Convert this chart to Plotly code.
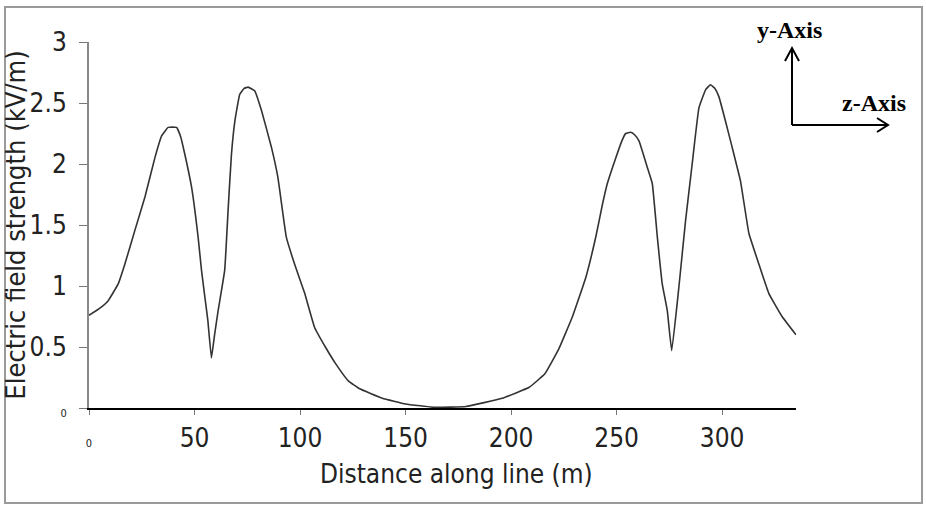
import plotly.graph_objects as go

# Data
distance_m = [0, 4.5, 9.1, 13.9, 17, 21.8, 26.5, 31.2, 34.4, 37.5, 41.5, 43.5, 45.4, 48.6, 51.7, 53.3, 54.9, 56.3,
              58, 59.5, 61.2, 64.3, 65.9, 67.5, 69.1, 71.4, 73.5, 75.4, 78.5, 81.7, 86.4, 89.5, 93.5, 97.4, 102.2,
              106.9, 112, 117, 123, 128, 139, 150, 164, 178.6, 195.8, 208.6, 216, 222.5, 229.1, 235.4,
              240.1, 243.3, 245.6, 249.6, 252.5, 254.3, 256.7, 258.5, 260.6, 264.6, 266.9, 269.3, 271.6, 274, 276.1,
              279.5, 282.7, 285.8, 289, 292.2, 294.5, 296.5, 298.5, 301.6, 304.7, 308.7, 312.7, 317.4, 322.1,
              328.4, 335]
field_kv_m = [0.76, 0.81, 0.88, 1.02, 1.18, 1.46, 1.73, 2.05, 2.23, 2.30, 2.30, 2.22, 2.08, 1.81, 1.40, 1.13, 0.91, 0.72,
              0.41, 0.60, 0.80, 1.13, 1.62, 2.08, 2.35, 2.57, 2.62, 2.63, 2.60, 2.44, 2.14, 1.89, 1.40, 1.18, 0.94,
              0.66, 0.50, 0.36, 0.22, 0.16, 0.08, 0.033, 0.005, 0.012, 0.08, 0.17, 0.28, 0.48, 0.75, 1.07,
              1.40, 1.67, 1.84, 2.05, 2.19, 2.25, 2.26, 2.24, 2.19, 1.97, 1.84, 1.40, 1.02, 0.80, 0.47,
              0.99, 1.54, 2.00, 2.46, 2.61, 2.65, 2.62, 2.55, 2.35, 2.14, 1.86, 1.43, 1.18, 0.94,
              0.75, 0.60]

x_tickvals = [0, 50, 100, 150, 200, 250, 300]
x_ticktext = ['<span style="font-size:11px">0</span>', "50", "100", "150", "200", "250", "300"]
y_tickvals = [0, 0.5, 1, 1.5, 2, 2.5, 3]
y_ticktext = ['<span style="font-size:11px">0</span>', "0.5", "1", "1.5", "2", "2.5", "3"]
x_title = "Distance along line (m)"
y_title = "Electric field strength (kV/m)"

FONT = "Liberation Sans Narrow, DejaVu Sans Condensed, Roboto"
W, H = 926, 508
L, R, T, B = 89, 796, 42, 408


def px(x):
    return (x - L) / (R - L)


def py(y):
    return (B - y) / (B - T)


fig = go.Figure()
fig.add_trace(go.Scatter(x=distance_m, y=field_kv_m, mode="lines",
                         line=dict(color="#333333", width=1.6, shape="spline", smoothing=0.3), showlegend=False))

shapes = []
# outer border
shapes.append(dict(type="rect", xref="paper", yref="paper", x0=px(5), x1=px(922), y0=py(7), y1=py(503),
                   line=dict(color="#9a9a9a", width=2)))
# axis indicator arrows
arrow = dict(color="black", width=2)
shapes.append(dict(type="line", xref="paper", yref="paper", x0=px(792), x1=px(792), y0=py(125), y1=py(48), line=arrow))
shapes.append(dict(type="line", xref="paper", yref="paper", x0=px(792), x1=px(887), y0=py(125), y1=py(125), line=arrow))
shapes.append(dict(type="path", xref="paper", yref="paper",
                   path=f"M {px(785)} {py(61)} L {px(792)} {py(48)} L {px(799)} {py(61)}", line=arrow))
shapes.append(dict(type="path", xref="paper", yref="paper",
                   path=f"M {px(877)} {py(118)} L {px(888)} {py(125)} L {px(877)} {py(132)}", line=arrow))

annotations = [
    dict(text="<b>y-Axis</b>", xref="paper", yref="paper", x=px(789), y=py(30), showarrow=False,
         xanchor="center", yanchor="middle",
         font=dict(family="Liberation Serif", size=24, color="black")),
    dict(text="<b>z-Axis</b>", xref="paper", yref="paper", x=px(874), y=py(103), showarrow=False,
         xanchor="center", yanchor="middle",
         font=dict(family="Liberation Serif", size=24, color="black")),
    dict(text=x_title, xref="paper", yref="paper", x=px(456), y=py(474), showarrow=False,
         xanchor="center", yanchor="middle",
         font=dict(family=FONT, size=26, color="#222222")),
]

fig.update_layout(
    width=W, height=H,
    margin=dict(l=L, r=W - R, t=T, b=H - B, pad=0),
    paper_bgcolor="white", plot_bgcolor="white",
    font=dict(family=FONT, color="#222222"),
    shapes=shapes, annotations=annotations,
    xaxis=dict(range=[0, 335], tickvals=x_tickvals, ticktext=x_ticktext, showgrid=False, zeroline=False,
               showline=True, linecolor="black", linewidth=2, ticks="outside", ticklen=5, tickcolor="#777777",
               tickfont=dict(size=26, family=FONT), ticklabelstandoff=1, automargin=False),
    yaxis=dict(range=[0, 3], tickvals=y_tickvals, ticktext=y_ticktext, showgrid=False, zeroline=False,
               showline=True, linecolor="#888888", linewidth=2, ticks="outside", ticklen=8, tickcolor="#777777",
               tickfont=dict(size=26, family=FONT), ticklabelstandoff=7, automargin=False,
               title=dict(text=y_title, font=dict(size=27, family=FONT), standoff=4)),
)

fig.write_html("out.html")
